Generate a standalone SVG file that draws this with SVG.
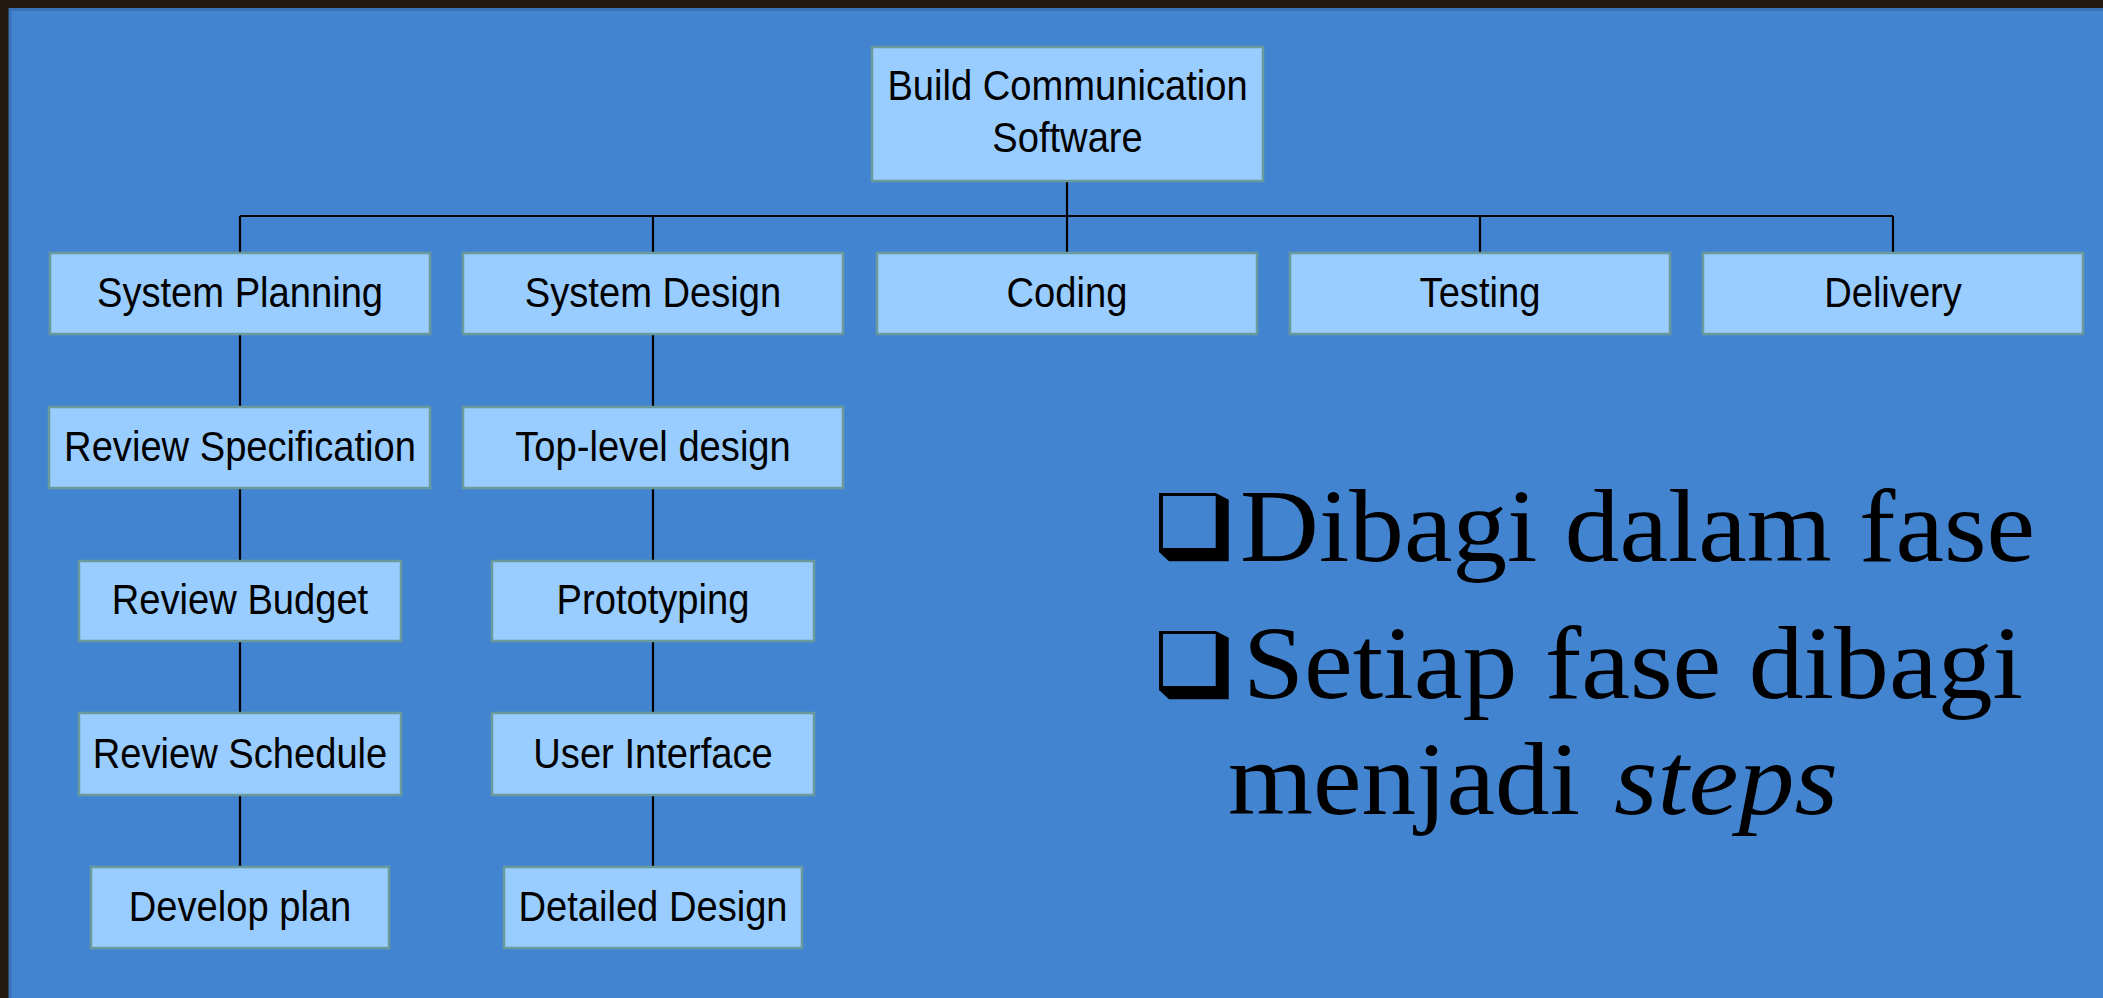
<svg xmlns="http://www.w3.org/2000/svg" width="2103" height="998" viewBox="0 0 2103 998">
  <defs>
    <style>
      .box { fill: #99ccff; stroke: #6a9a9c; stroke-width: 2.5; }
      .lbl { font-family: "Liberation Sans", Arial, sans-serif; font-size: 43px; fill: #000; text-anchor: middle; }
      .link { stroke: #000; stroke-width: 2.2; fill: none; }
      .bul { font-family: "Liberation Serif", "Times New Roman", serif; font-size: 103px; fill: #000; }
    </style>
    <!-- shadowed square bullet -->
    <symbol id="sqbullet" viewBox="0 0 70 69" width="70" height="69">
      <path fill="#000" fill-rule="evenodd" d="M0,0 H56.7 L69.7,6.7 V68.3 H10 L0,59 Z M4,3 V55 H56.7 V3 Z"/>
    </symbol>
  </defs>

  <!-- frame and slide panel -->
  <rect x="0" y="0" width="2103" height="998" fill="#231712"/>
  <rect x="10" y="8" width="2093" height="990" fill="#4284d0"/>
  <path d="M10,998 V9.5 H2103" fill="none" stroke="#3a72b6" stroke-width="3"/>

  <!-- connectors -->
  <g id="connectors" class="link">
    <line x1="1067" y1="181" x2="1067" y2="253"/>
    <line x1="240" y1="216" x2="1893" y2="216"/>
    <line x1="240" y1="216" x2="240" y2="253"/>
    <line x1="653" y1="216" x2="653" y2="253"/>
    <line x1="1480" y1="216" x2="1480" y2="253"/>
    <line x1="1893" y1="216" x2="1893" y2="253"/>
    <line x1="240" y1="334" x2="240" y2="407"/>
    <line x1="240" y1="488" x2="240" y2="561"/>
    <line x1="240" y1="641" x2="240" y2="713"/>
    <line x1="240" y1="795" x2="240" y2="867"/>
    <line x1="653" y1="334" x2="653" y2="407"/>
    <line x1="653" y1="488" x2="653" y2="561"/>
    <line x1="653" y1="641" x2="653" y2="713"/>
    <line x1="653" y1="795" x2="653" y2="867"/>
  </g>

  <!-- root -->
  <g id="root">
    <rect class="box" x="872" y="47" width="391" height="134"/>
    <text class="lbl" transform="translate(1067.5,100) scale(0.887,1)">Build Communication</text>
    <text class="lbl" transform="translate(1067.5,152) scale(0.887,1)">Software</text>
  </g>

  <!-- phases -->
  <g id="system-planning">
    <rect class="box" x="50" y="253" width="380" height="81"/>
    <text class="lbl" transform="translate(240,307) scale(0.887,1)">System Planning</text>
  </g>
  <g id="system-design">
    <rect class="box" x="463" y="253" width="380" height="81"/>
    <text class="lbl" transform="translate(653,307) scale(0.887,1)">System Design</text>
  </g>
  <g id="coding">
    <rect class="box" x="877" y="253" width="380" height="81"/>
    <text class="lbl" transform="translate(1067,307) scale(0.887,1)">Coding</text>
  </g>
  <g id="testing">
    <rect class="box" x="1290" y="253" width="380" height="81"/>
    <text class="lbl" transform="translate(1480,307) scale(0.887,1)">Testing</text>
  </g>
  <g id="delivery">
    <rect class="box" x="1703" y="253" width="380" height="81"/>
    <text class="lbl" transform="translate(1893,307) scale(0.887,1)">Delivery</text>
  </g>

  <!-- system planning steps -->
  <g id="review-specification">
    <rect class="box" x="49" y="407" width="381" height="81"/>
    <text class="lbl" transform="translate(240,461) scale(0.887,1)">Review Specification</text>
  </g>
  <g id="review-budget">
    <rect class="box" x="79" y="561" width="322" height="80"/>
    <text class="lbl" transform="translate(240,614) scale(0.887,1)">Review Budget</text>
  </g>
  <g id="review-schedule">
    <rect class="box" x="79" y="713" width="322" height="82"/>
    <text class="lbl" transform="translate(240,768) scale(0.887,1)">Review Schedule</text>
  </g>
  <g id="develop-plan">
    <rect class="box" x="91" y="867" width="298" height="81"/>
    <text class="lbl" transform="translate(240,921) scale(0.887,1)">Develop plan</text>
  </g>

  <!-- system design steps -->
  <g id="top-level-design">
    <rect class="box" x="463" y="407" width="380" height="81"/>
    <text class="lbl" transform="translate(653,461) scale(0.887,1)">Top-level design</text>
  </g>
  <g id="prototyping">
    <rect class="box" x="492" y="561" width="322" height="80"/>
    <text class="lbl" transform="translate(653,614) scale(0.887,1)">Prototyping</text>
  </g>
  <g id="user-interface">
    <rect class="box" x="492" y="713" width="322" height="82"/>
    <text class="lbl" transform="translate(653,768) scale(0.887,1)">User Interface</text>
  </g>
  <g id="detailed-design">
    <rect class="box" x="504" y="867" width="298" height="81"/>
    <text class="lbl" transform="translate(653,921) scale(0.887,1)">Detailed Design</text>
  </g>

  <!-- bullet notes -->
  <g id="notes">
    <use href="#sqbullet" x="1159" y="493"/>
    <text class="bul" x="1240" y="561" textLength="795" lengthAdjust="spacingAndGlyphs">Dibagi dalam fase</text>
    <use href="#sqbullet" x="1159" y="631"/>
    <text class="bul" x="1243" y="698" textLength="780" lengthAdjust="spacingAndGlyphs">Setiap fase dibagi</text>
    <text class="bul" x="1228" y="814" textLength="352" lengthAdjust="spacingAndGlyphs">menjadi</text>
    <text class="bul" x="1614" y="814" font-style="italic" textLength="224" lengthAdjust="spacingAndGlyphs">steps</text>
  </g>
</svg>
